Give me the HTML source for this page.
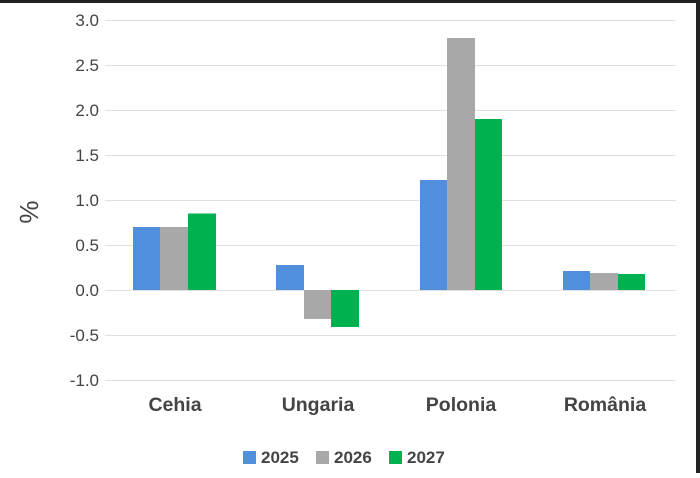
<!DOCTYPE html>
<html><head><style>
body{margin:0;background:#fff}
</style></head><body>
<svg width="700" height="473" xmlns="http://www.w3.org/2000/svg" font-family="Liberation Sans, sans-serif">
<rect width="700" height="473" fill="#fff"/>
<rect x="0" y="0" width="700" height="3" fill="#222"/>
<rect x="696" y="0" width="4" height="473" fill="#222"/>
<g stroke="#e0e0e0" stroke-width="1">
<line x1="105" x2="676" y1="20.5" y2="20.5"/><line x1="105" x2="676" y1="65.5" y2="65.5"/>
<line x1="105" x2="676" y1="110.5" y2="110.5"/><line x1="105" x2="676" y1="155.5" y2="155.5"/>
<line x1="105" x2="676" y1="200.5" y2="200.5"/><line x1="105" x2="676" y1="245.5" y2="245.5"/>
<line x1="105" x2="676" y1="290.5" y2="290.5"/><line x1="105" x2="676" y1="335.5" y2="335.5"/>
<line x1="105" x2="676" y1="380.5" y2="380.5"/>
</g>
<g font-size="17" fill="#444" text-anchor="end">
<text x="99" y="26">3.0</text><text x="99" y="71">2.5</text><text x="99" y="116">2.0</text>
<text x="99" y="161">1.5</text><text x="99" y="206">1.0</text><text x="99" y="251">0.5</text>
<text x="99" y="296">0.0</text><text x="99" y="341">-0.5</text><text x="99" y="386">-1.0</text>
</g>
<text transform="translate(38,212) rotate(-90)" font-size="26" fill="#444" text-anchor="middle">%</text>
<g>
<rect x="133" y="227" width="27" height="63" fill="#4f8fdc"/>
<rect x="160" y="227" width="28" height="63" fill="#a8a8a8"/>
<rect x="188" y="213.5" width="28" height="76.5" fill="#00b14f"/>
<rect x="276" y="265" width="28" height="25" fill="#4f8fdc"/>
<rect x="304" y="290" width="27" height="29" fill="#a8a8a8"/>
<rect x="331" y="290" width="28" height="37" fill="#00b14f"/>
<rect x="420" y="180" width="27" height="110" fill="#4f8fdc"/>
<rect x="447" y="38" width="28" height="252" fill="#a8a8a8"/>
<rect x="475" y="119" width="27" height="171" fill="#00b14f"/>
<rect x="563" y="271" width="27" height="19" fill="#4f8fdc"/>
<rect x="590" y="273" width="28" height="17" fill="#a8a8a8"/>
<rect x="618" y="274" width="27" height="16" fill="#00b14f"/>
</g>
<g font-size="19.5" font-weight="bold" fill="#444" text-anchor="middle">
<text x="175" y="411">Cehia</text><text x="318" y="411">Ungaria</text>
<text x="461" y="411">Polonia</text><text x="605" y="411">România</text>
</g>
<g font-size="17" font-weight="bold" fill="#444">
<rect x="243" y="451" width="13" height="13" fill="#4f8fdc"/><text x="261" y="463">2025</text>
<rect x="316" y="451" width="13" height="13" fill="#a8a8a8"/><text x="334" y="463">2026</text>
<rect x="389" y="451" width="13" height="13" fill="#00b14f"/><text x="407" y="463">2027</text>
</g>
</svg>
</body></html>
